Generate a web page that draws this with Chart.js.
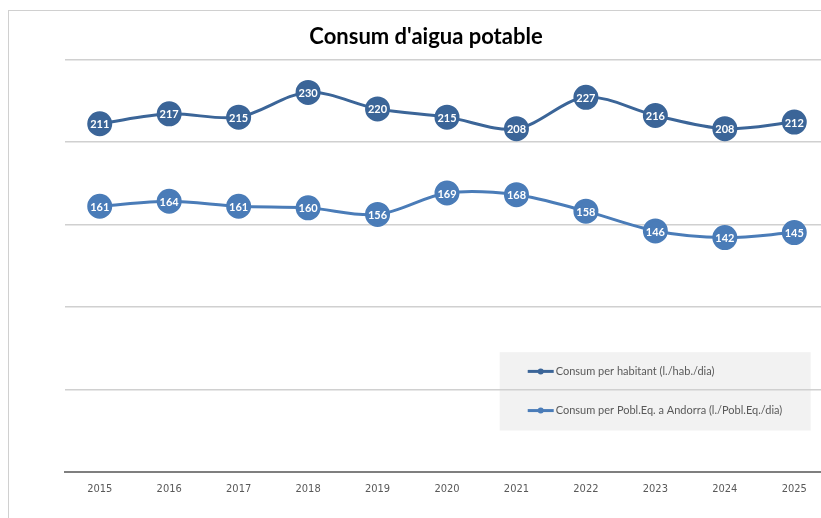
<!DOCTYPE html>
<html>
<head>
<meta charset="utf-8">
<script src="https://cdn.jsdelivr.net/npm/chart.js@4/dist/chart.umd.min.js"></script>
<style>
  html, body { margin: 0; padding: 0; background: #fff; overflow: hidden; }
  #frame { position: absolute; left: 8px; top: 10px; width: 812px; height: 507px;
           border-left: 1px solid #d0d0d0; border-top: 1px solid #d0d0d0; }
  #aiguaChart { position: absolute; left: 9px; top: 11px; }
</style>
</head>
<body>
<div id="frame"></div>
<canvas id="aiguaChart" width="834" height="507"></canvas>
<script>
// Dades del gràfic
const anys = ['2015', '2016', '2017', '2018', '2019', '2020', '2021', '2022', '2023', '2024', '2025'];
const perHabitant = [211, 217, 215, 230, 220, 215, 208, 227, 216, 208, 212];
const perPoblEq = [161, 164, 161, 160, 156, 169, 168, 158, 146, 142, 145];
const nomsSeries = ['Consum per habitant (l./hab./dia)', 'Consum per Pobl.Eq. a Andorra (l./Pobl.Eq./dia)'];
const coloursSeries = ['#3b6598', '#4a7cb8'];

// Etiquetes blanques dins dels cercles
const etiquetesPlugin = {
    id: 'etiquetes',
    afterDatasetsDraw(chart) {
        const ctx = chart.ctx;
        ctx.save();
        ctx.fillStyle = '#ffffff';
        ctx.font = 'bold 11px Lato';
        ctx.textAlign = 'center';
        ctx.textBaseline = 'middle';
        chart.data.datasets.forEach((ds, i) => {
            chart.getDatasetMeta(i).data.forEach((pt, j) => {
                ctx.fillText(ds.data[j], pt.x, pt.y + 1);
            });
        });
        ctx.restore();
    }
};

// Llegenda dins de l'àrea del gràfic (fons gris sota la graella)
function capsaLlegenda(chart) {
    const a = chart.chartArea;
    const w = a.right - a.left, h = a.bottom - a.top;
    return { x: a.left + w * 0.569, y: a.top + h * 0.71, w: w * 0.407, h: h * 0.19 };
}
const llegendaPlugin = {
    id: 'llegenda',
    beforeDraw(chart) {
        const b = capsaLlegenda(chart);
        const ctx = chart.ctx;
        ctx.save();
        ctx.fillStyle = '#f2f2f2';
        ctx.fillRect(b.x, b.y, b.w, b.h);
        ctx.restore();
    },
    afterDraw(chart) {
        const b = capsaLlegenda(chart);
        const ctx = chart.ctx;
        ctx.save();
        ctx.font = '11px Lato';
        ctx.textBaseline = 'middle';
        chart.data.datasets.forEach((ds, i) => {
            const y = b.y + b.h * (i === 0 ? 0.245 : 0.745);
            const x0 = b.x + 28;
            ctx.strokeStyle = ds.borderColor;
            ctx.lineWidth = 3;
            ctx.beginPath();
            ctx.moveTo(x0, y);
            ctx.lineTo(x0 + 26, y);
            ctx.stroke();
            ctx.fillStyle = ds.borderColor;
            ctx.beginPath();
            ctx.arc(x0 + 13, y, 3, 0, Math.PI * 2);
            ctx.fill();
            ctx.fillStyle = '#595959';
            ctx.fillText(ds.label, x0 + 28, y);
        });
        ctx.restore();
    }
};

const ctx = document.getElementById('aiguaChart').getContext('2d');
new Chart(ctx, {
    type: 'line',
    data: {
        labels: anys,
        datasets: [
            {
                label: nomsSeries[0],
                data: perHabitant,
                borderColor: coloursSeries[0],
                backgroundColor: coloursSeries[0],
                pointBackgroundColor: coloursSeries[0],
                borderWidth: 3,
                pointRadius: 11,
                pointHoverRadius: 11,
                tension: 0.33
            },
            {
                label: nomsSeries[1],
                data: perPoblEq,
                borderColor: coloursSeries[1],
                backgroundColor: coloursSeries[1],
                pointBackgroundColor: coloursSeries[1],
                borderWidth: 3,
                pointRadius: 11,
                pointHoverRadius: 11,
                tension: 0.33
            }
        ]
    },
    options: {
        responsive: false,
        animation: false,
        layout: { padding: { top: 0, right: 0, bottom: 11, left: 0 } },
        plugins: {
            legend: { display: false },
            tooltip: { enabled: false },
            title: {
                display: true,
                text: "Consum d'aigua potable",
                color: '#000000',
                font: { family: 'Lato', size: 22, weight: 'bold', lineHeight: 1.2 },
                padding: { top: 13, bottom: 9 }
            }
        },
        scales: {
            x: {
                offset: true,
                grid: { display: false, drawTicks: false },
                border: { display: true, color: '#7f7f7f', width: 2 },
                ticks: { color: '#595959', padding: 11, font: { family: "'DejaVu Sans Condensed', 'Roboto Condensed', Roboto", size: 11 } }
            },
            y: {
                min: 0,
                max: 250,
                afterFit(scale) { scale.width = 56; },
                border: { display: false },
                grid: {
                    drawTicks: false,
                    lineWidth: 1.5,
                    color: c => c.tick.value === 0 ? 'rgba(0,0,0,0)' : '#d0d0d0'
                },
                ticks: { display: false, stepSize: 50 }
            }
        }
    },
    plugins: [etiquetesPlugin, llegendaPlugin]
});
</script>
</body>
</html>
